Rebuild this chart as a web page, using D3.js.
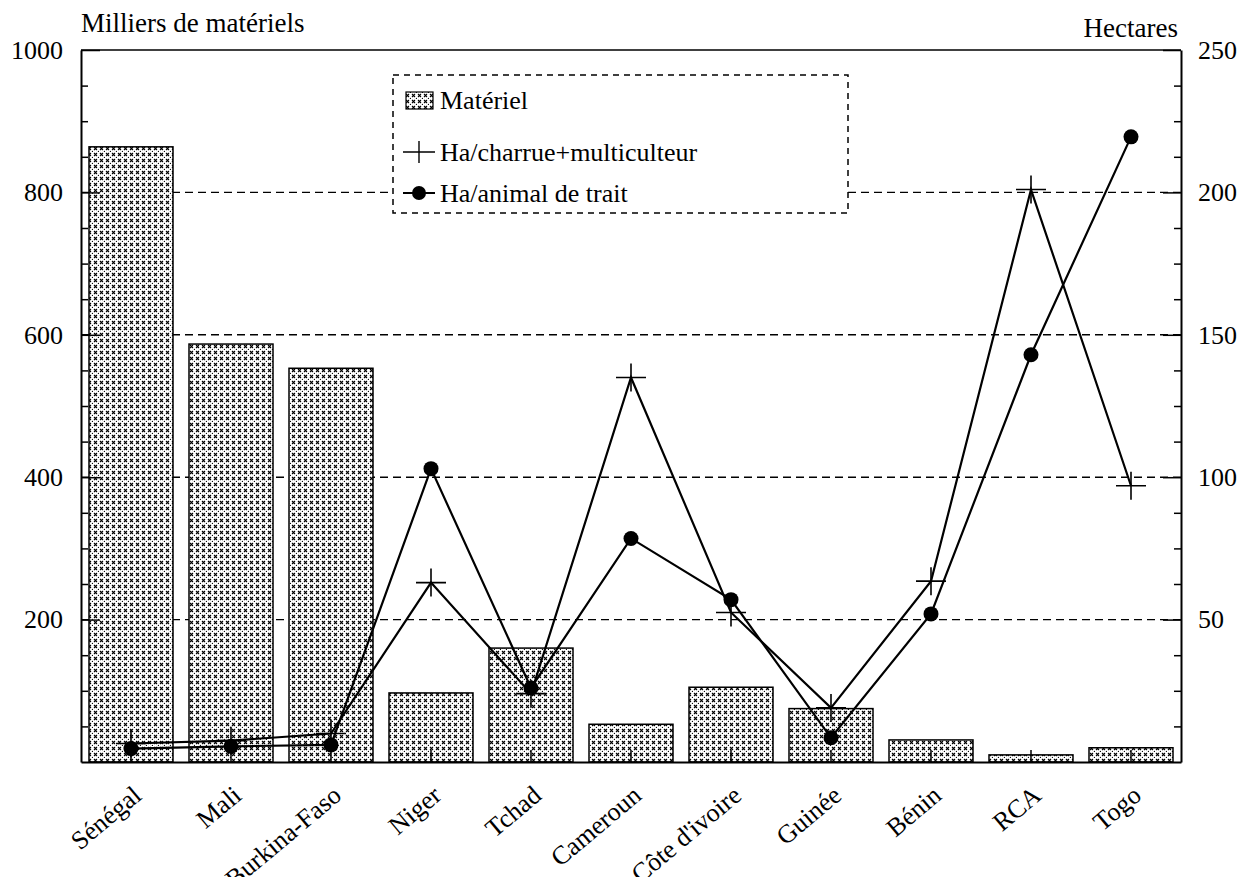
<!DOCTYPE html>
<html>
<head>
<meta charset="utf-8">
<script src="https://cdn.jsdelivr.net/npm/d3@7"></script>
<style>
  html, body { margin: 0; padding: 0; background: #fff; }
  svg { display: block; font-family: "Liberation Serif", "Times New Roman", serif; }
</style>
</head>
<body>
<div id="chart"></div>
<script>
// Data
const categories = ['Sénégal', 'Mali', 'Burkina-Faso', 'Niger', 'Tchad', 'Cameroun',
    "Côte d'ivoire", 'Guinée', 'Bénin', 'RCA', 'Togo'];
const materiel = [864, 587, 553, 97, 160, 53, 105, 75, 31, 10, 20];        // milliers
const haCharrue = [6.5, 7.5, 10, 63, 24, 135, 52.5, 19, 63.5, 201, 97];    // hectares
const haAnimal = [4.7, 5.5, 6, 103, 26, 78.5, 57, 8.5, 52, 143, 219.5];    // hectares
const leftTicks = [200, 400, 600, 800, 1000];
const rightTicks = [50, 100, 150, 200, 250];
const legendLabels = ['Matériel', 'Ha/charrue+multiculteur', 'Ha/animal de trait'];

const W = 1245, H = 877;
const margin = { top: 50, right: 64, bottom: 115, left: 81 };
const width = W - margin.left - margin.right;
const height = H - margin.top - margin.bottom;
const FONT = 26;
const SERIF = '"Liberation Serif", "Times New Roman", serif';

const svg = d3.select('#chart').append('svg')
    .attr('width', W)
    .attr('height', H);

svg.append('rect').attr('width', W).attr('height', H).attr('fill', '#fff');

// Hatch pattern for the bars (small crosses + dots)
const defs = svg.append('defs');
const pat = defs.append('pattern')
    .attr('id', 'hatch')
    .attr('patternUnits', 'userSpaceOnUse')
    .attr('width', 6)
    .attr('height', 6);
pat.append('rect').attr('width', 6).attr('height', 6).attr('fill', '#fff');
pat.append('path')
    .attr('d', 'M1,1L4,4M4,1L1,4')
    .attr('stroke', '#000')
    .attr('stroke-width', 1.1);
pat.append('circle').attr('cx', 5.4).attr('cy', 5.4).attr('r', 0.6).attr('fill', '#000');

const g = svg.append('g')
    .attr('transform', `translate(${margin.left},${margin.top})`);

// Scales
const x = d3.scaleBand()
    .domain(categories)
    .range([0, width])
    .paddingInner(0.16)
    .paddingOuter(0.08);
const yL = d3.scaleLinear().domain([0, 1000]).range([height, 0]);
const yR = d3.scaleLinear().domain([0, 250]).range([height, 0]);
const cx = (i) => x(categories[i]) + x.bandwidth() / 2;

// Dashed grid lines (behind the bars)
g.selectAll('.grid')
    .data(rightTicks.filter(d => d < 250))
    .enter().append('line')
    .attr('class', 'grid')
    .attr('x1', 0)
    .attr('x2', width)
    .attr('y1', d => yR(d))
    .attr('y2', d => yR(d))
    .attr('stroke', '#000')
    .attr('stroke-width', 1.4)
    .attr('stroke-dasharray', '8,5');

// Bars
g.selectAll('.bar')
    .data(materiel)
    .enter().append('rect')
    .attr('class', 'bar')
    .attr('x', (d, i) => x(categories[i]))
    .attr('width', x.bandwidth())
    .attr('y', d => yL(d))
    .attr('height', d => height - yL(d))
    .attr('fill', 'url(#hatch)')
    .attr('stroke', '#000')
    .attr('stroke-width', 1.5);

// Axes
const styleAxis = (sel) => {
    sel.attr('font-family', SERIF).attr('font-size', FONT);
    sel.selectAll('.domain').attr('stroke', '#000').attr('stroke-width', 2);
    sel.selectAll('.tick line').attr('stroke', '#000').attr('stroke-width', 1.5);
    sel.selectAll('.tick text')
        .attr('fill', '#000')
        .style('font-family', SERIF)
        .style('font-size', FONT + 'px');
};

const gyL = g.append('g')
    .call(d3.axisLeft(yL).tickValues(leftTicks).tickFormat(d3.format('d'))
        .tickSize(-19).tickSizeOuter(0).tickPadding(18));
styleAxis(gyL);
const gyLm = g.append('g')
    .call(d3.axisLeft(yL).tickValues(d3.range(50, 1000, 50).filter(v => v % 200 !== 0))
        .tickSize(-7).tickSizeOuter(0).tickFormat(''));
gyLm.select('.domain').remove();
styleAxis(gyLm);

const gyR = g.append('g')
    .attr('transform', `translate(${width},0)`)
    .call(d3.axisRight(yR).tickValues(rightTicks).tickFormat(d3.format('d'))
        .tickSize(-18).tickSizeOuter(0).tickPadding(17));
styleAxis(gyR);
const gyRm = g.append('g')
    .attr('transform', `translate(${width},0)`)
    .call(d3.axisRight(yR).tickValues(d3.range(12.5, 250, 12.5).filter(v => v % 50 !== 0))
        .tickSize(-7).tickSizeOuter(0).tickFormat(''));
gyRm.select('.domain').remove();
styleAxis(gyRm);

const gx = g.append('g')
    .attr('transform', `translate(0,${height})`)
    .call(d3.axisBottom(x).tickSize(-12).tickSizeOuter(0).tickPadding(0));
styleAxis(gx);
gx.select('.domain').attr('stroke-width', 1.8);
gx.selectAll('.tick text')
    .style('text-anchor', 'end')
    .attr('x', 12)
    .attr('y', 36)
    .attr('dy', 0)
    .attr('transform', 'rotate(-40 12 36)');

// Top frame line
g.append('line')
    .attr('x1', 0).attr('x2', width)
    .attr('y1', 0).attr('y2', 0)
    .attr('stroke', '#000')
    .attr('stroke-width', 1.5);

// Axis titles
svg.append('text')
    .attr('x', margin.left)
    .attr('y', 32)
    .style('font-size', '27px')
    .text('Milliers de matériels');
svg.append('text')
    .attr('x', margin.left + width - 3)
    .attr('y', 37)
    .style('text-anchor', 'end')
    .style('font-size', '27px')
    .text('Hectares');

// Lines
const line = d3.line()
    .x((d, i) => cx(i))
    .y(d => yR(d));

g.append('path')
    .datum(haCharrue)
    .attr('d', line)
    .attr('fill', 'none')
    .attr('stroke', '#000')
    .attr('stroke-width', 2.2);
g.append('path')
    .datum(haAnimal)
    .attr('d', line)
    .attr('fill', 'none')
    .attr('stroke', '#000')
    .attr('stroke-width', 2.2);

const plusPath = 'M-15,0H15M0,-14V14';
g.selectAll('.plus')
    .data(haCharrue)
    .enter().append('path')
    .attr('class', 'plus')
    .attr('transform', (d, i) => `translate(${cx(i)},${yR(d)})`)
    .attr('d', plusPath)
    .attr('stroke', '#000')
    .attr('stroke-width', 1.6);

g.selectAll('.dot')
    .data(haAnimal)
    .enter().append('circle')
    .attr('class', 'dot')
    .attr('cx', (d, i) => cx(i))
    .attr('cy', d => yR(d))
    .attr('r', 7.5)
    .attr('fill', '#000');

// Legend
const lg = svg.append('g').attr('transform', 'translate(393,75)');
lg.append('rect')
    .attr('width', 455)
    .attr('height', 138)
    .attr('fill', '#fff')
    .attr('stroke', '#000')
    .attr('stroke-width', 1.5)
    .attr('stroke-dasharray', '6,5');

lg.append('rect')
    .attr('x', 13).attr('y', 17)
    .attr('width', 27).attr('height', 17)
    .attr('fill', 'url(#hatch)')
    .attr('stroke', '#000')
    .attr('stroke-width', 1.2);

lg.append('path')
    .attr('transform', 'translate(26,77)')
    .attr('d', 'M-16,0H16M0,-11V11')
    .attr('stroke', '#000')
    .attr('stroke-width', 1.4);

lg.append('line')
    .attr('x1', 10).attr('x2', 42)
    .attr('y1', 118).attr('y2', 118)
    .attr('stroke', '#000')
    .attr('stroke-width', 2);
lg.append('circle')
    .attr('cx', 26).attr('cy', 118)
    .attr('r', 7)
    .attr('fill', '#000');

lg.selectAll('.ltext')
    .data(legendLabels)
    .enter().append('text')
    .attr('class', 'ltext')
    .attr('x', 47)
    .attr('y', (d, i) => [34, 86, 127][i])
    .style('font-size', '26px')
    .text(d => d);
</script>
</body>
</html>
